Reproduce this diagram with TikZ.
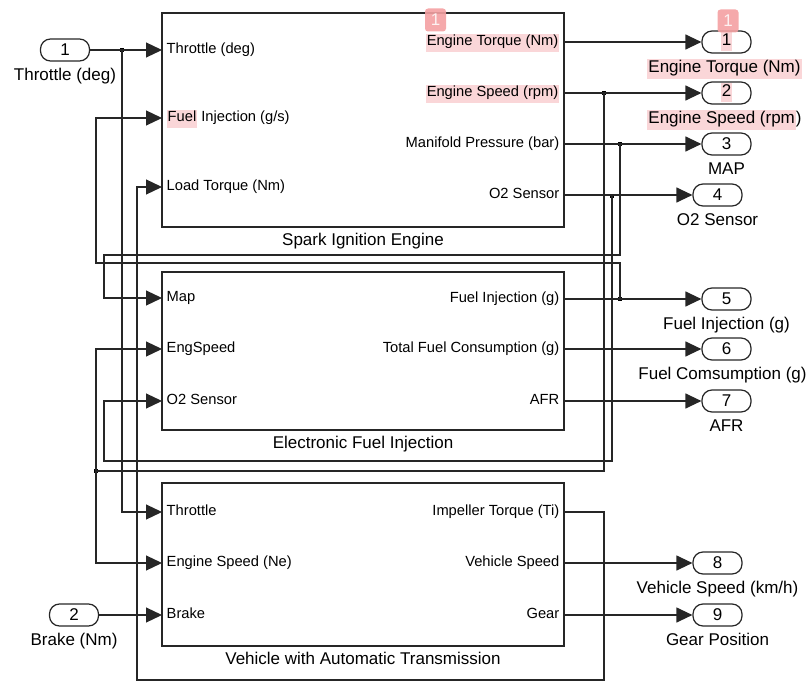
\documentclass[tikz,border=0pt]{standalone}
\usepackage{fontspec}
\setmainfont{Liberation Sans}
\usepackage{tikz}
\usetikzlibrary{arrows.meta,positioning}
\definecolor{hlpink}{RGB}{250,214,216}
\definecolor{bdgpink}{RGB}{244,160,162}
\newcommand{\hlt}[1]{{\setlength{\fboxsep}{1pt}\colorbox{hlpink}{\strut #1}}}
\tikzset{
  blk/.style    ={rectangle, draw=black!85, line width=1.2pt, minimum width=402pt,
                  inner sep=0pt},
  pin/.style    ={rectangle, rounded corners=10pt, draw=black!85, line width=1.2pt,
                  minimum width=49pt, minimum height=22pt, inner sep=0pt,
                  font=\fontsize{17}{17}\selectfont},
  pinlbl/.style ={inner sep=0pt, text height=12pt, text depth=3.5pt,
                  font=\fontsize{17}{17}\selectfont},
  ttl/.style    ={pinlbl},
  inlbl/.style  ={anchor=west, inner xsep=4.5pt, inner ysep=0pt, text height=10.5pt,
                  text depth=3pt, font=\fontsize{14.7}{16}\selectfont},
  outlbl/.style ={inlbl, anchor=east},
  sig/.style    ={-{Triangle[length=16pt,width=15pt]}, line width=1.2pt, draw=black!85},
  wire/.style   ={line width=1.2pt, draw=black!85},
  junc/.style   ={rectangle, fill=black, minimum size=4pt, inner sep=0pt},
  badge/.style  ={rectangle, rounded corners=3pt, fill=bdgpink, fill opacity=0.9,
                  text=white!85!bdgpink, text opacity=1, minimum width=21pt,
                  minimum height=23pt, inner sep=0pt, font=\fontsize{17}{17}\selectfont}
}
\begin{document}
\begin{tikzpicture}[x=1pt,y=-1pt]
  \useasboundingbox (0,0) rectangle (806,682);
  % ---------------- Blocks ----------------
  \node[blk, minimum height=214pt] (sie) at (363,120)   {};
  \node[blk, minimum height=158pt] (efi) at (363,351)   {};
  \node[blk, minimum height=163pt] (vat) at (363,564.5) {};
  \node[ttl, below=6pt of sie] (sietl) {Spark Ignition Engine};
  \node[ttl, below=6pt of efi] (efitl) {Electronic Fuel Injection};
  \node[ttl, below=6pt of vat] (vattl) {Vehicle with Automatic Transmission};

  % ---------------- Engine ports ----------------
  \node[inlbl]  (sthr) at (162,50)  {Throttle (deg)};
  \node[inlbl]  (sfi)  at (162,118) {\hlt{Fuel} Injection (g/s)};
  \node[inlbl]  (sld)  at (162,187) {Load Torque (Nm)};
  \node[outlbl] (stq)  at (564,42)  {\hlt{Engine Torque (Nm)}};
  \node[outlbl] (sesp) at (564,93)  {\hlt{Engine Speed (rpm)}};
  \node[outlbl] (smap) at (564,144) {Manifold Pressure (bar)};
  \node[outlbl] (so2)  at (564,195) {O2 Sensor};

  % ---------------- Fuel injection ports ----------------
  \node[inlbl]  (emap) at (162,298) {Map};
  \node[inlbl]  (eesp) at (162,349) {EngSpeed};
  \node[inlbl]  (eo2)  at (162,401) {O2 Sensor};
  \node[outlbl] (efi1) at (564,299) {Fuel Injection (g)};
  \node[outlbl] (etfc) at (564,349) {Total Fuel Consumption (g)};
  \node[outlbl] (eafr) at (564,401) {AFR};

  % ---------------- Vehicle ports ----------------
  \node[inlbl]  (vthr) at (162,512) {Throttle};
  \node[inlbl]  (vesp) at (162,563) {Engine Speed (Ne)};
  \node[inlbl]  (vbrk) at (162,615) {Brake};
  \node[outlbl] (vimp) at (564,512) {Impeller Torque (Ti)};
  \node[outlbl] (vspd) at (564,563) {Vehicle Speed};
  \node[outlbl] (vgr)  at (564,615) {Gear};

  % ---------------- Inports / outports ----------------
  \node[pin] (i1) at (65,50)     {1};
  \node[pin] (i2) at (74,615)    {2};
  \node[pin] (o1) at (726.5,42)  {\hlt{1}};
  \node[pin] (o2) at (726.5,93)  {\hlt{2}};
  \node[pin] (o3) at (726.5,144) {3};
  \node[pin] (o4) at (717.5,195) {4};
  \node[pin] (o5) at (726.5,299) {5};
  \node[pin] (o6) at (726.5,349) {6};
  \node[pin] (o7) at (726.5,401) {7};
  \node[pin] (o8) at (717.5,563) {8};
  \node[pin] (o9) at (717.5,615) {9};
  \node[pinlbl, below=7pt of i1] {Throttle (deg)};
  \node[pinlbl, below=7pt of i2] {Brake (Nm)};
  \node[pinlbl, below=7pt of o1, xshift=-2pt] {\hlt{Engine Torque (Nm)}};
  \node[pinlbl, below=7pt of o2, xshift=-2pt] {\hlt{Engine Speed (rpm})};
  \node[pinlbl, below=7pt of o3] {MAP};
  \node[pinlbl, below=7pt of o4] {O2 Sensor};
  \node[pinlbl, below=7pt of o5] {Fuel Injection (g)};
  \node[pinlbl, below=7pt of o6, xshift=-4pt] {Fuel Comsumption (g)};
  \node[pinlbl, below=7pt of o7] {AFR};
  \node[pinlbl, below=7pt of o8] {Vehicle Speed (km/h)};
  \node[pinlbl, below=7pt of o9] {Gear Position};

  % ---------------- Branch points ----------------
  \node[junc] (jthr) at (122,50)  {};
  \node[junc] (jes)  at (604,93)  {};
  \node[junc] (jmap) at (620,144) {};
  \node[junc] (jo2)  at (612,196) {};
  \node[junc] (jfi)  at (620,299) {};
  \node[junc] (jes2) at (96,471)  {};

  % ---------------- Straight signals ----------------
  \draw[sig] (i1.east)   -- (sthr.west);
  \draw[sig] (i2.east)   -- (vbrk.west);
  \draw[sig] (stq.east)  -- (o1.west);
  \draw[sig] (sesp.east) -- (o2.west);
  \draw[sig] (smap.east) -- (o3.west);
  \draw[sig] (so2.east)  -- (o4.west);
  \draw[sig] (efi1.east) -- (o5.west);
  \draw[sig] (etfc.east) -- (o6.west);
  \draw[sig] (eafr.east) -- (o7.west);
  \draw[sig] (vspd.east) -- (o8.west);
  \draw[sig] (vgr.east)  -- (o9.west);

  % ---------------- Feedback signals ----------------
  \draw[sig]  (jthr.center) |- (vthr.west);
  \draw[sig]  (jfi.center)  |- (96,263)  |- (sfi.west);
  \draw[sig]  (jmap.center) |- (104,255) |- (emap.west);
  \draw[sig]  (jo2.center)  |- (104,461) |- (eo2.west);
  \draw[wire] (jes.center)  |- (jes2.center);
  \draw[sig]  (jes2.center) |- (eesp.west);
  \draw[sig]  (jes2.center) |- (vesp.west);
  % impeller torque goes back to the engine load
  \draw[sig]  (vimp.east) -| (604,680) -- (137,680) |- (sld.west);

  % ---------------- Search badges ----------------
  \node[badge] (b1) at (435.5,20) {1};
  \node[badge] (b2) at (728,21)   {1};
\end{tikzpicture}
\end{document}
